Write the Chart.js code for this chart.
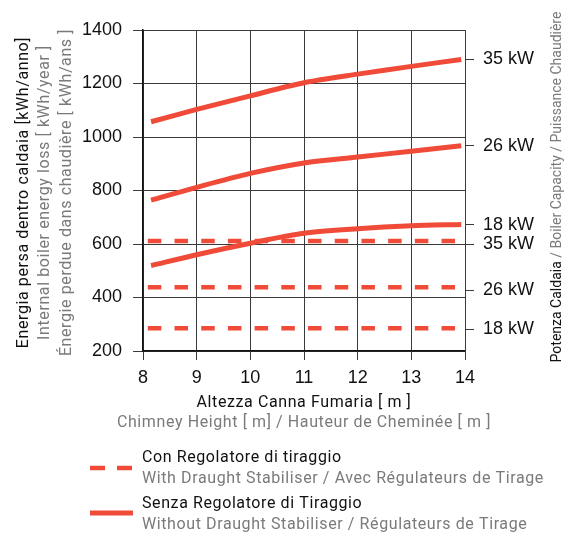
<!DOCTYPE html>
<html>
<head>
<meta charset="utf-8">
<script src="https://cdn.jsdelivr.net/npm/chart.js@4.4.1/dist/chart.umd.min.js"></script>
<style>
html, body { margin: 0; padding: 0; background: #fff; }
#wrap { width: 573px; height: 534px; position: relative; }
</style>
</head>
<body>
<div id="wrap"><canvas id="myChart"></canvas></div>
<script>
// Altezza canna fumaria [m]
const altezze = [8.15, 9, 10, 11, 12, 13, 13.93];
// Senza regolatore di tiraggio
const senza35 = [1057, 1103, 1154, 1203, 1235, 1264, 1290];
const senza26 = [764, 812, 864, 903, 925, 947, 967];
const senza18 = [519, 560, 603, 640, 657, 668, 673];
// Con regolatore di tiraggio
const altezzeCon = [8.09, 13.95];
const con35 = [611, 611];
const con26 = [438, 438];
const con18 = [285, 285];
// Asse destro: potenza caldaia
const potenzaValori = [1290, 967, 672, 600, 428, 281];
const potenzaEtichette = ["35 kW", "26 kW", "18 kW", "35 kW", "26 kW", "18 kW"];

const ROSSO = "#ef4b38";
const NERO = "#111";
const GRIGIO = "#7a7a7a";
const FONT_TESTO = "Roboto, 'Open Sans', sans-serif";

function punti(xs, ys) {
    return xs.map((x, i) => ({ x: x, y: ys[i] }));
}

function serieSenza(ys) {
    return {
        data: punti(altezze, ys),
        borderColor: ROSSO,
        borderWidth: 5,
        tension: 0.3,
        pointRadius: 0,
        fill: false
    };
}

function serieCon(ys) {
    return {
        data: punti(altezzeCon, ys),
        borderColor: ROSSO,
        borderWidth: 4.5,
        borderDash: [13.5, 13.2],
        pointRadius: 0,
        fill: false
    };
}

// Titoli degli assi e legenda disegnati a mano
const testiPlugin = {
    id: "testi",
    afterDraw(chart) {
        const ctx = chart.ctx;
        const area = chart.chartArea;
        const cy = (area.top + area.bottom) / 2;
        const cx = (area.left + area.right) / 2;

        ctx.save();
        ctx.textBaseline = "middle";
        ctx.font = "16px " + FONT_TESTO;
        ctx.letterSpacing = "0.6px";

        // Titolo asse Y sinistro (3 righe)
        const righeY = [
            ["Energia persa dentro caldaia [kWh/anno]", NERO, 24],
            ["Internal boiler energy loss [ kWh/year ]", GRIGIO, 45],
            ["Énergie perdue dans chaudière [ kWh/ans ]", GRIGIO, 67]
        ];
        righeY.forEach(r => {
            ctx.save();
            ctx.translate(r[2], cy + 2);
            ctx.rotate(-Math.PI / 2);
            ctx.textAlign = "center";
            ctx.fillStyle = r[1];
            ctx.fillText(r[0], 0, 0);
            ctx.restore();
        });

        // Titolo asse destro (due colori)
        ctx.save();
        ctx.font = "14px " + FONT_TESTO;
        ctx.letterSpacing = "0px";
        ctx.translate(557, 187);
        ctx.rotate(-Math.PI / 2);
        ctx.textAlign = "left";
        const parti = [["Potenza Caldaia", NERO], [" / Boiler Capacity / Puissance Chaudière", GRIGIO]];
        let tot = parti.reduce((s, p) => s + ctx.measureText(p[0]).width, 0);
        let x = -tot / 2;
        parti.forEach(p => {
            ctx.fillStyle = p[1];
            ctx.fillText(p[0], x, 0);
            x += ctx.measureText(p[0]).width;
        });
        ctx.restore();

        // Titolo asse X
        ctx.textAlign = "center";
        ctx.fillStyle = NERO;
        ctx.fillText("Altezza Canna Fumaria [ m ]", cx, 403);
        ctx.fillStyle = GRIGIO;
        ctx.fillText("Chimney Height [ m] / Hauteur de Cheminée [ m ]", cx, 423);

        // Legenda
        ctx.strokeStyle = ROSSO;
        ctx.lineWidth = 4.5;
        ctx.setLineDash([15, 12]);
        ctx.beginPath();
        ctx.moveTo(90, 468);
        ctx.lineTo(132, 468);
        ctx.stroke();
        ctx.setLineDash([]);
        ctx.lineWidth = 5;
        ctx.beginPath();
        ctx.moveTo(90, 513);
        ctx.lineTo(133, 513);
        ctx.stroke();

        ctx.textAlign = "left";
        ctx.fillStyle = NERO;
        ctx.fillText("Con Regolatore di tiraggio", 142, 458);
        ctx.fillText("Senza Regolatore di Tiraggio", 142, 504);
        ctx.fillStyle = GRIGIO;
        ctx.fillText("With Draught Stabiliser / Avec Régulateurs de Tirage", 142, 479);
        ctx.fillText("Without Draught Stabiliser / Régulateurs de Tirage", 142, 525);
        ctx.restore();
    }
};

const canvas = document.getElementById("myChart");
const ctx = canvas.getContext("2d");

const fontTick = { family: "'Liberation Sans', Arial, sans-serif", size: 18 };

new Chart(ctx, {
    type: "line",
    data: {
        datasets: [
            serieSenza(senza35),
            serieSenza(senza26),
            serieSenza(senza18),
            serieCon(con35),
            serieCon(con26),
            serieCon(con18)
        ]
    },
    options: {
        responsive: true,
        maintainAspectRatio: false,
        animation: false,
        layout: { padding: { top: 30, left: 0, right: 0, bottom: 0 } },
        plugins: {
            legend: { display: false },
            tooltip: { enabled: false }
        },
        scales: {
            x: {
                type: "linear",
                min: 8,
                max: 14,
                ticks: { stepSize: 1, color: NERO, font: fontTick, padding: 7 },
                grid: { color: "#3a3a3a", lineWidth: 1, tickLength: 9 },
                border: { color: NERO, width: 1.5 },
                afterFit: s => { s.height = 183; }
            },
            y: {
                position: "left",
                min: 200,
                max: 1400,
                ticks: {
                    stepSize: 200,
                    color: NERO,
                    font: fontTick,
                    padding: 11,
                    callback: v => String(v)
                },
                grid: { color: "#3a3a3a", lineWidth: 1, tickLength: 10 },
                border: { color: NERO, width: 1.5 },
                afterFit: s => { s.width = 143; }
            },
            y2: {
                position: "right",
                min: 200,
                max: 1400,
                afterBuildTicks: s => { s.ticks = potenzaValori.map(v => ({ value: v })); },
                ticks: {
                    color: NERO,
                    font: fontTick,
                    padding: 9,
                    autoSkip: false,
                    callback: (v, i) => potenzaEtichette[i]
                },
                grid: { drawOnChartArea: false, color: "#3a3a3a", tickLength: 9 },
                border: { color: "#3a3a3a", width: 1 },
                afterFit: s => { s.width = 108; }
            }
        }
    },
    plugins: [testiPlugin]
});
</script>
</body>
</html>
